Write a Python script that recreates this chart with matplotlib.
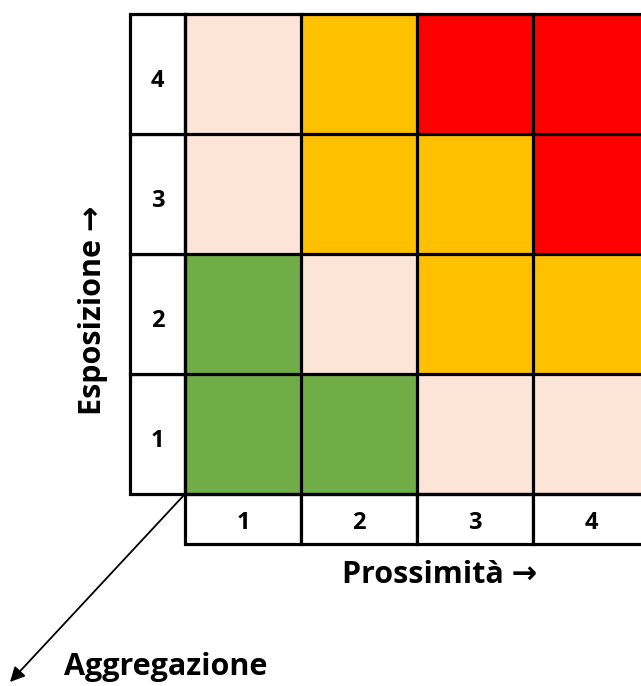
import numpy as np
import matplotlib.pyplot as plt
from matplotlib.colors import ListedColormap
from matplotlib.patches import Rectangle

# Risk matrix data (rows from bottom = Esposizione 1..4, cols = Prossimità 1..4).
# 0 = low (green), 1 = light (pink), 2 = medium (orange), 3 = high (red)
proxLabels = ['1', '2', '3', '4']
espLabels = ['1', '2', '3', '4']
riskLevels = [
    [0, 0, 1, 1],  # Esposizione 1
    [0, 1, 2, 2],  # Esposizione 2
    [1, 2, 2, 3],  # Esposizione 3
    [1, 2, 3, 3],  # Esposizione 4
]
levelColors = ['#70AD47', '#FCE4D6', '#FFC000', '#FF0000']

plt.rcParams['font.family'] = ['Open Sans', 'DejaVu Sans']

W, H = 641, 686
fig = plt.figure(figsize=(W / 100, H / 100), dpi=100)
fig.patch.set_facecolor('white')

# Grid area in pixels: x 185..649 (cut at 641), y 14..494
ax = fig.add_axes([185 / W, 1 - 494 / H, 464 / W, 480 / H])
data = np.array(riskLevels)
ax.pcolormesh(np.arange(5), np.arange(5), data, cmap=ListedColormap(levelColors),
              vmin=-0.5, vmax=3.5)
ax.set_xlim(0, 4)
ax.set_ylim(0, 4)
ax.axis('off')

lw = 2.3
labW = 55 / 116  # width of row-label column in cell units
labH = 50 / 120  # height of column-label row in cell units

# grid lines inside the colored area
for k in range(5):
    ax.plot([k, k], [0, 4], color='black', lw=lw, clip_on=False, solid_capstyle='projecting')
    ax.plot([0, 4], [k, k], color='black', lw=lw, clip_on=False, solid_capstyle='projecting')

# row label column
for i, lab in enumerate(espLabels):
    ax.add_patch(Rectangle((-labW, i), labW, 1, facecolor='white', edgecolor='black',
                           lw=lw, clip_on=False))
    ax.text(-labW / 2, i + 0.44, lab, ha='center', va='center', fontsize=17,
            fontweight='bold')

# column label row
for j, lab in enumerate(proxLabels):
    ax.add_patch(Rectangle((j, -labH), 1, labH, facecolor='white', edgecolor='black',
                           lw=lw, clip_on=False))
    ax.text(j + 0.5, -labH / 2 - 0.03, lab, ha='center', va='center', fontsize=17,
            fontweight='bold')

# axis titles
fig.text(93 / W, 1 - 310 / H, 'Esposizione \u2192', rotation=90, ha='center', va='center',
         fontsize=22, fontweight='bold')
fig.text(440 / W, 1 - 575 / H, 'Prossimità \u2192', ha='center', va='center',
         fontsize=22, fontweight='bold')

# aggregation arrow from grid origin
ax.annotate('', xy=(10 / W, 1 - 682 / H), xycoords='figure fraction',
            xytext=(0, 0), textcoords='data',
            arrowprops=dict(arrowstyle='-|>', color='black', lw=1.3, mutation_scale=22,
                            shrinkA=0, shrinkB=0))
fig.text(166 / W, 1 - 667 / H, 'Aggregazione', ha='center', va='center',
         fontsize=22, fontweight='bold')

fig.savefig('out.png', dpi=100)
